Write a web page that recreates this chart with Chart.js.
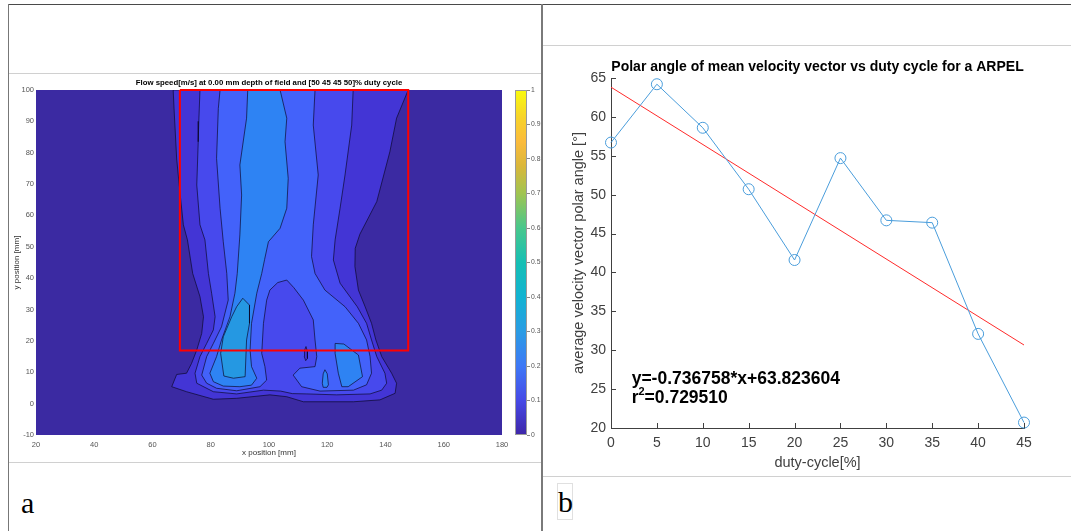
<!DOCTYPE html>
<html><head><meta charset="utf-8">
<script src="https://cdn.jsdelivr.net/npm/chart.js@4.4.1/dist/chart.umd.min.js"></script>
<style>
html,body{margin:0;padding:0;background:#fff;width:1071px;height:531px;overflow:hidden;}
#page{position:relative;width:1071px;height:531px;}
.ln{position:absolute;}
canvas{position:absolute;}
.lab{position:absolute;font-family:"Liberation Serif","Times New Roman",serif;font-size:30px;line-height:30px;color:#000;}
</style></head><body>
<div id="page">
 <div class="ln" style="left:8px;top:4px;width:1063px;height:1px;background:#4a4a4a"></div>
 <div class="ln" style="left:8px;top:4px;width:1px;height:527px;background:#777"></div>
 <div class="ln" style="left:541px;top:4px;width:2px;height:527px;background:#7a7a7a"></div>
 <div class="ln" style="left:9px;top:73px;width:532px;height:1px;background:#d0d0d0"></div>
 <div class="ln" style="left:9px;top:462px;width:532px;height:1px;background:#d0d0d0"></div>
 <div class="ln" style="left:543px;top:45px;width:528px;height:1px;background:#d0d0d0"></div>
 <div class="ln" style="left:543px;top:476px;width:528px;height:1px;background:#d0d0d0"></div>
 <div class="lab" style="left:21px;top:488px;">a</div>
 <div class="ln" style="left:557px;top:483px;width:16px;height:37px;border:1px solid #e0e0e0;box-sizing:border-box"></div>
 <div class="lab" style="left:558px;top:487px;">b</div>
 <canvas id="cLeft" width="540" height="390" style="left:0;top:75px"></canvas>
 <canvas id="cBar" width="37" height="390" style="left:505px;top:75px"></canvas>
 <canvas id="cRight" width="526" height="430" style="left:545px;top:46px"></canvas>
</div>
<script>
// ---------------- panel b data ----------------
const dutyCycle  = [0, 5, 10, 15, 20, 25, 30, 35, 40, 45];
const polarAngle = [56.7, 64.2, 58.6, 50.7, 41.6, 54.7, 46.7, 46.4, 32.1, 20.7];
const fitDuty    = [0, 45];
const fitAngle   = [63.82, 30.67];
const dutyTicks  = [0, 5, 10, 15, 20, 25, 30, 35, 40, 45];
const angleTicks = [20, 25, 30, 35, 40, 45, 50, 55, 60, 65];
const fitText    = 'y=-0.736758*x+63.823604';
const r2Value    = '=0.729510';

// ---------------- panel a data (contour regions in mm) ----------------
const xPosTicks = [20, 40, 60, 80, 100, 120, 140, 160, 180];
const yPosTicks = [-10, 0, 10, 20, 30, 40, 50, 60, 70, 80, 90, 100];
const speedTicks = [0, 0.1, 0.2, 0.3, 0.4, 0.5, 0.6, 0.7, 0.8, 0.9, 1];
const speedTickLabels = ['0','0.1','0.2','0.3','0.4','0.5','0.6','0.7','0.8','0.9','1'];
const bgRegion = [[20,-10],[180,-10],[180,100],[20,100]];
const level1Region = [[67.1,100],[67.4,94],[68.3,78],[69.4,67.6],[70.6,57],[72.0,52.2],[73.8,41.5],[76.3,34.1],[77.5,27.7],[76.9,22.4],[75.2,17.1],[73.4,12.8],[71.7,9.7],[68.3,9.3],[66.6,5.4],[71.7,3.8],[80.9,1.4],[88.9,1.7],[100.3,2.8],[106.1,2.2],[111.8,0.6],[129,0.6],[138.1,1.2],[143.3,3.3],[143.8,6.5],[142.1,9.7],[138.7,15.0],[136.7,20.3],[135.2,25.6],[133,30.9],[130.7,36.2],[129.5,43.7],[129.6,49.5],[131.2,54],[137,64.4],[141.5,80.3],[143.8,91],[147.8,100]];
const level2Region = [[76.3,100],[75.9,90],[75.7,83.5],[75.2,69.7],[76.3,57],[78.0,52.2],[79.2,41.5],[80.3,35.2],[81.5,27.7],[80.9,23.5],[78.6,19.2],[76.3,15],[74.6,9.7],[75.2,6.5],[80.9,3.8],[88.9,3.1],[98.1,4.3],[104,4.0],[108,3.2],[113,3.1],[123.2,2.8],[134.7,3.1],[138.7,4.3],[140.4,6.5],[139.8,9.7],[137,15],[135.2,20.3],[133.5,25.6],[130.3,30.9],[124.4,38.4],[122.1,45.8],[122.7,52.2],[124.4,62.3],[126.1,72.9],[128.4,88.8],[128.9,100]];
const level3Region = [[83.2,100],[82.6,94.1],[82.0,78.2],[83.2,62.3],[84.3,51.6],[85.5,41.5],[86.0,33.0],[83.7,24.5],[80.9,19.2],[78.6,15.0],[76.9,9.1],[78.6,6.5],[82.0,4.9],[88.9,4.1],[96.9,5.4],[99.2,7.5],[98.6,11.8],[97.5,16.0],[98.1,25.6],[99.2,33.0],[100.3,36.2],[103,38.6],[106.1,39.4],[108.5,37],[111.8,33.0],[115.2,26.7],[115.8,20.3],[116.4,15.0],[115.8,11.8],[110.6,11.3],[108.3,9.1],[111.2,5.4],[117.5,4.0],[129,4.3],[133.5,6.0],[135.2,9.7],[134.7,15.0],[133.5,20.3],[130.7,25.6],[126.1,30.9],[119.2,36.2],[115.8,41.5],[114.6,46.9],[115.2,57.0],[116.9,72.9],[115.2,88.8],[115.8,100]];
const level4Column = [[92.7,100],[92.3,91],[90.0,76.1],[90.6,66.5],[90.0,53.8],[89.1,41.5],[88.3,35.2],[86.6,27.7],[83.7,20.3],[82.0,15.0],[79.7,9.7],[80.9,7.0],[84.3,5.6],[90.0,5.4],[94.0,5.9],[95.8,8.1],[94.0,11.8],[93.5,17.1],[94.0,25.6],[95.8,35.2],[97.5,41.5],[98.5,46],[99.8,51.6],[103.8,55.9],[106.1,62.3],[106.6,71.8],[105.5,83.5],[106.1,91],[103.8,100]];
const level4RightLobe = [[122.7,19.2],[125.7,19.0],[130.7,15.5],[132.1,8.6],[127.2,5.4],[125.0,5.4],[123.8,9.7],[122.7,16.0]];
const level5LeftCore = [[91.0,33.6],[93.3,31.4],[93.3,25.6],[92.3,20.3],[91.8,8.6],[87.8,8.1],[84.5,8.8],[83.4,16.0],[84.3,21.3],[87.2,27.7],[88.9,30.9]];
const level4Islet = [[119.2,10.8],[120.0,9.5],[120.4,6.0],[119.9,5.2],[118.6,5.2],[118.3,6.5],[118.6,9.5]];
const level1Islet = [[112.7,18.2],[113.2,16.6],[113.2,14.4],[112.6,13.7],[112.1,15.0],[112.2,17.0]];
const roiBox = [[69.4,100],[147.8,100],[147.8,16.9],[69.4,16.9]];

const levelColors = ['#3b2aa2','#4335d5','#4749ed','#4362fa','#2e83f3','#2598e2'];
const colorbarStops = [[0,'#3e26a8'],[0.1,'#4649e6'],[0.2,'#3e78f6'],[0.3,'#2a9ce4'],[0.4,'#12b3d2'],[0.5,'#16bfb4'],[0.6,'#48c78c'],[0.7,'#a0c451'],[0.78,'#dab73a'],[0.85,'#fbbb3c'],[0.92,'#f7d32a'],[1,'#f9fb0e']];

const FONT = '"Liberation Sans", Arial, Helvetica, sans-serif';
Chart.defaults.font.family = FONT;
Chart.defaults.animation = false;

function poly(pts){ const d = pts.map(p=>({x:p[0],y:p[1]})); d.push({x:pts[0][0],y:pts[0][1]}); return d; }
function fixedTicks(arr){ return s => { s.ticks = arr.map(v=>({value:v})); }; }

// ---------------- panel a: contour ----------------
const layers = [
  {pts:bgRegion, c:levelColors[0], line:false},
  {pts:level1Region, c:levelColors[1]},
  {pts:level2Region, c:levelColors[2]},
  {pts:level3Region, c:levelColors[3]},
  {pts:level4Column, c:levelColors[4]},
  {pts:level4RightLobe, c:levelColors[4]},
  {pts:level5LeftCore, c:levelColors[5]},
  {pts:level4Islet, c:levelColors[4]},
  {pts:level1Islet, c:levelColors[1]}
];
const leftSets = layers.map((l,i)=>({
  data: poly(l.pts), backgroundColor: l.c, fill: 'shape',
  borderColor: l.line===false ? 'rgba(0,0,0,0)' : 'rgba(10,8,40,0.85)',
  borderWidth: l.line===false ? 0 : 0.8,
  pointRadius: 0, tension: 0, order: 100 - i
}));
leftSets.push({data: poly(roiBox), borderColor:'#ff0000', borderWidth:2, fill:false, pointRadius:0, tension:0, order:0, clip:false});

new Chart(document.getElementById('cLeft'), {
  type:'line',
  data:{datasets:leftSets},
  options:{
    responsive:false, animation:false, events:[],
    layout:{padding:{left:0,right:38,top:0,bottom:0}},
    plugins:{legend:{display:false}, tooltip:{enabled:false},
      title:{display:true, fullSize:false, text:'Flow speed[m/s] at 0.00 mm depth of field and [50 45 45 50]% duty cycle',
        font:{size:7.8, weight:'bold'}, color:'#000', padding:{top:2.8,bottom:2.8}}},
    scales:{
      x:{type:'linear', min:20, max:180, afterBuildTicks: fixedTicks(xPosTicks),
         ticks:{font:{size:7.5}, color:'#555', padding:5, maxRotation:0, autoSkip:false},
         grid:{display:false, drawTicks:false}, border:{display:false},
         title:{display:true, text:'x position [mm]', font:{size:8}, color:'#333', padding:{top:0,bottom:7.2}},
         afterFit: s=>{ s.height = 30; }},
      y:{type:'linear', min:-10, max:100, afterBuildTicks: fixedTicks(yPosTicks),
         ticks:{font:{size:7.5}, color:'#555', padding:2, autoSkip:false},
         grid:{display:false, drawTicks:false}, border:{display:false},
         title:{display:true, text:'y position [mm]', font:{size:8}, color:'#333', padding:{top:12.2,bottom:0}},
         afterFit: s=>{ s.width = 36; }}
    }
  }
});

// ---------------- colorbar ----------------
const boxPlugin = {id:'cbBox', afterDraw(chart){ const a = chart.chartArea, c = chart.ctx; c.save(); c.strokeStyle='#9a9a9a'; c.lineWidth=1; c.strokeRect(Math.round(a.left)+0.5, Math.round(a.top)+0.5, Math.round(a.right-a.left)-1, Math.round(a.bottom-a.top)-1); c.restore(); }};
new Chart(document.getElementById('cBar'), {
  type:'bar',
  data:{labels:[''], datasets:[{data:[1], borderWidth:0, barPercentage:1, categoryPercentage:1,
    backgroundColor: c => { const ch = c.chart, a = ch.chartArea; if(!a) return levelColors[0];
      const g = ch.ctx.createLinearGradient(0, a.bottom, 0, a.top); colorbarStops.forEach(s=>g.addColorStop(s[0], s[1])); return g; }}]},
  options:{
    responsive:false, animation:false, events:[],
    layout:{padding:{left:10,top:15,bottom:30,right:0}},
    plugins:{legend:{display:false}, tooltip:{enabled:false}},
    scales:{
      x:{display:false},
      y:{position:'right', min:0, max:1, afterBuildTicks: fixedTicks(speedTicks),
         ticks:{font:{size:6.8}, color:'#555', padding:1, autoSkip:false, callback:(v,i)=>speedTickLabels[i]},
         grid:{display:true, drawOnChartArea:false, drawTicks:true, tickLength:3, color:'#888'}, border:{display:false},
         afterFit: s=>{ s.width = 15; }}
    }
  },
  plugins:[boxPlugin]
});

// ---------------- panel b: line chart ----------------
const inTicks = {id:'inTicks', afterDraw(chart){
  const {ctx, chartArea:a, scales:{x, y}} = chart;
  ctx.save(); ctx.strokeStyle='#404040'; ctx.lineWidth=1; ctx.beginPath();
  x.ticks.forEach(t=>{ const p = Math.round(x.getPixelForValue(t.value))+0.5; ctx.moveTo(p, a.bottom); ctx.lineTo(p, a.bottom-5); });
  y.ticks.forEach(t=>{ const p = Math.round(y.getPixelForValue(t.value))+0.5; ctx.moveTo(a.left, p); ctx.lineTo(a.left+5, p); });
  ctx.stroke(); ctx.restore();
}};
const eqPos = {x:2.25, y1:25.6, y2:23.2};
const annot = {id:'annot', afterDatasetsDraw(chart){
  const {ctx, scales:{x, y}} = chart;
  const big = 'bold 17.5px ' + FONT, small = 'bold 11px ' + FONT;
  ctx.save(); ctx.fillStyle='#000'; ctx.textBaseline='alphabetic'; ctx.textAlign='left';
  const px = x.getPixelForValue(eqPos.x);
  ctx.font = big; ctx.fillText(fitText, px, y.getPixelForValue(eqPos.y1));
  const py2 = y.getPixelForValue(eqPos.y2);
  ctx.fillText('r', px, py2); const rw = ctx.measureText('r').width;
  ctx.font = small; ctx.fillText('2', px + rw, py2 - 8.6); const w2 = ctx.measureText('2').width;
  ctx.font = big; ctx.fillText(r2Value, px + rw + w2, py2);
  ctx.restore();
}};
const BLUE = '#4a9ddb';
new Chart(document.getElementById('cRight'), {
  type:'line',
  data:{datasets:[
    {data: dutyCycle.map((v,i)=>({x:v, y:polarAngle[i]})), borderColor:BLUE, borderWidth:1, tension:0,
     pointStyle:'circle', pointRadius:5.5, pointBorderColor:BLUE, pointBackgroundColor:'rgba(0,0,0,0)', pointBorderWidth:1, fill:false, clip:false, order:0},
    {data: fitDuty.map((v,i)=>({x:v, y:fitAngle[i]})), borderColor:'#ff2a2a', borderWidth:1, pointRadius:0, fill:false, tension:0, order:1}
  ]},
  options:{
    responsive:false, animation:false, events:[],
    layout:{padding:{left:0,right:47,top:0,bottom:0}},
    plugins:{legend:{display:false}, tooltip:{enabled:false},
      title:{display:true, fullSize:false, text:'Polar angle of mean velocity vector vs duty cycle for a ARPEL',
        font:{size:14, weight:'bold'}, color:'#000', padding:{top:13.2,bottom:2.0}}},
    scales:{
      x:{type:'linear', min:0, max:45, afterBuildTicks: fixedTicks(dutyTicks),
         ticks:{font:{size:14}, color:'#404040', padding:6.6, maxRotation:0, autoSkip:false},
         grid:{display:false, drawTicks:false}, border:{display:true, color:'#404040', width:1},
         title:{display:true, text:'duty-cycle[%]', font:{size:14.5}, color:'#404040', padding:{top:0,bottom:4.3}},
         afterFit: s=>{ s.height = 48; }},
      y:{type:'linear', min:20, max:65, afterBuildTicks: fixedTicks(angleTicks),
         ticks:{font:{size:14}, color:'#404040', padding:5, autoSkip:false},
         grid:{display:false, drawTicks:false}, border:{display:true, color:'#404040', width:1},
         title:{display:true, text:'average velocity vector polar angle [°]', font:{size:14.5}, color:'#404040', padding:{top:25.3,bottom:0}},
         afterFit: s=>{ s.width = 66; }}
    }
  },
  plugins:[inTicks, annot]
});
</script>
</body></html>
